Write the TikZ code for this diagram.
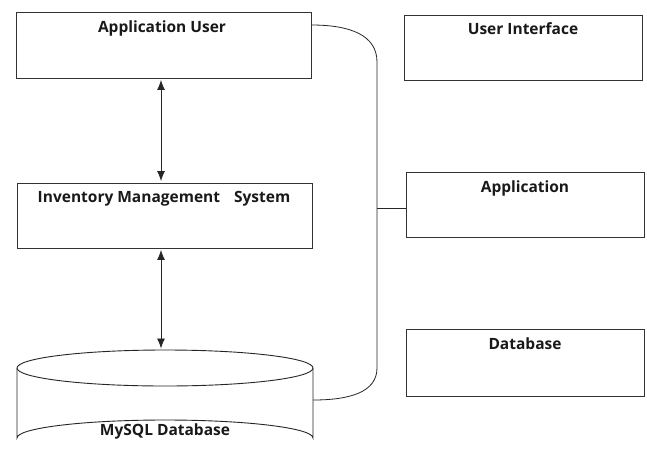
\documentclass[tikz,border=0pt]{standalone}
\usepackage{fontspec}
\setmainfont{Open Sans}
\usetikzlibrary{arrows.meta,shadows}
\begin{document}
\begin{tikzpicture}[x=1pt,y=-1pt,
  box/.style={draw=black!80,line width=0.9pt,fill=white,inner sep=0pt,
    drop shadow={shadow xshift=1pt,shadow yshift=-1.2pt,opacity=0.35,fill=black!60}},
  lbl/.style={font=\fontsize{15.5}{18}\selectfont\bfseries,text=black!90,inner sep=0pt},
  link/.style={draw=black!85,line width=0.8pt},
  biarrow/.style={link,{Latex[length=10pt,width=8pt]}-{Latex[length=10pt,width=8pt]},shorten <=1.5pt,shorten >=1.5pt}]
\useasboundingbox (0,0) rectangle (647,453);
\fill[white] (0,0) rectangle (647,453);

% left column
\node[box,minimum width=295pt,minimum height=66pt] (au) at (163.5,45) {};
\node[lbl] (aul) at (162,28) {Application User};
\node[box,minimum width=295pt,minimum height=65pt] (ims) at (164.5,215.5) {};
\node[lbl] (imsl) at (164,199) {Inventory Management\hspace{14pt}System};

% cylinder (MySQL Database)
\begin{scope}
\clip (0,0) rectangle (647,453);
\fill[white] (17,368) -- (17,438) arc[start angle=180,end angle=360,x radius=148,y radius=18] -- (313,368) -- cycle;
\draw[link,line width=0.9pt] (17,368) -- (17,438) arc[start angle=180,end angle=360,x radius=148,y radius=18] -- (313,368);
\draw[link,line width=0.9pt,fill=white] (165,368) ellipse[x radius=148,y radius=18];
\end{scope}
\coordinate (dbtop) at (161,350);
\coordinate (dbright) at (313,400);
\node[lbl] (dbl) at (165,431) {MySQL Database};

% arrows
\draw[biarrow] (au.south -| 161,0) -- (ims.north -| 161,0);
\draw[biarrow] (ims.south -| 161,0) -- (dbtop);

% right column
\node[box,minimum width=238pt,minimum height=65pt] (ui) at (523,47.5) {};
\node[lbl] (uil) at (523,29) {User Interface};
\node[box,minimum width=238pt,minimum height=65pt] (app) at (525,204.5) {};
\node[lbl] (appl) at (525,188) {Application};
\node[box,minimum width=238pt,minimum height=67pt] (db) at (525,362.5) {};
\node[lbl] (dbbl) at (525,344) {Database};

% bracket
\coordinate (bstart) at (au.north east |- 0,25);
\coordinate (bmid) at (377,208);
\draw[link] (bstart) .. controls (350,25) and (377,35) .. (377,62)
  -- (377,368) .. controls (377,392) and (350,400) .. (dbright);
\draw[link] (bmid) -- (app.west |- bmid);
\end{tikzpicture}
\end{document}
